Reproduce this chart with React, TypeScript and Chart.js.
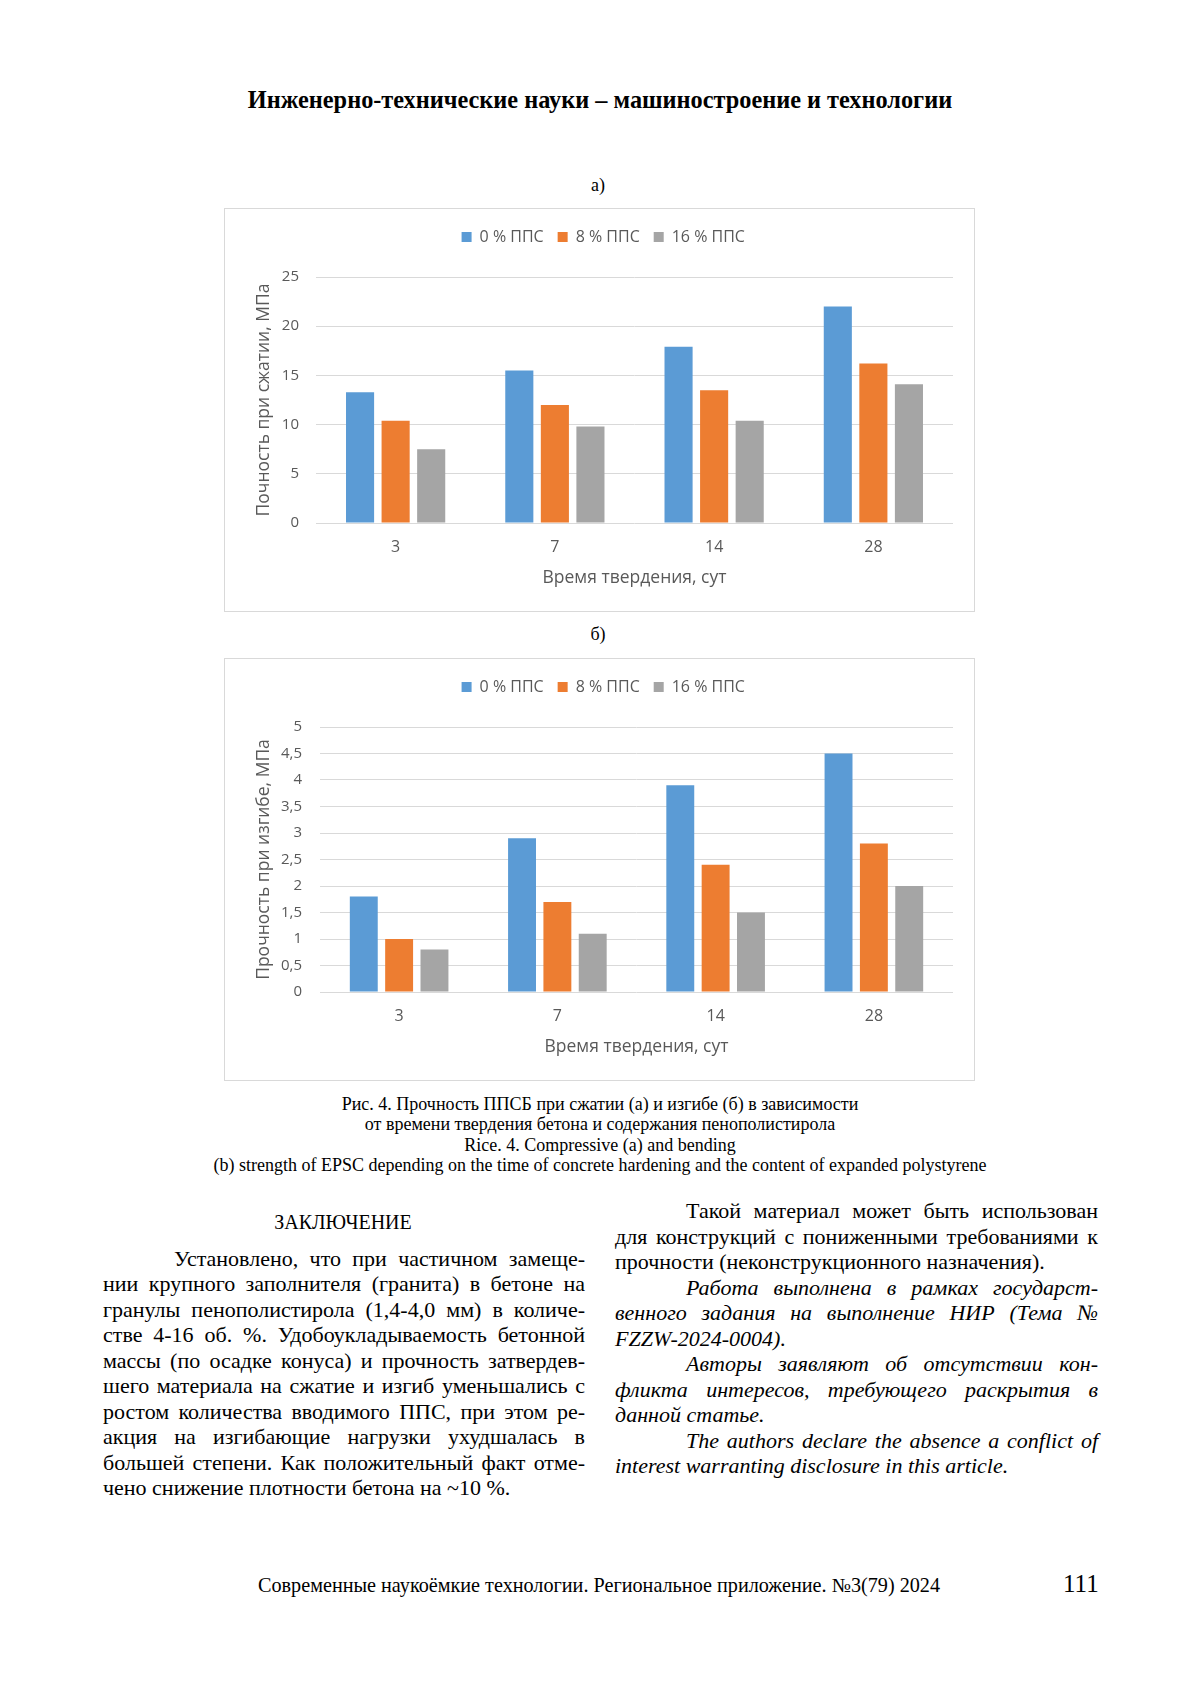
import React, { useEffect, useRef } from "react";
import { Chart, registerables } from "chart.js";

Chart.register(...registerables);

// ---------- data ----------
const categories = ["3", "7", "14", "28"];
const seriesLabels = ["0 % ППС", "8 % ППС", "16 % ППС"];
const seriesColors = ["#5B9BD5", "#ED7D31", "#A5A5A5"];

const compress0 = [13.3, 15.5, 17.9, 22.0];
const compress8 = [10.4, 12.0, 13.5, 16.2];
const compress16 = [7.5, 9.8, 10.4, 14.1];

const bend0 = [1.8, 2.9, 3.9, 4.5];
const bend8 = [1.0, 1.7, 2.4, 2.8];
const bend16 = [0.8, 1.1, 1.5, 2.0];

const compressMax = 25;
const compressStep = 5;
const bendMax = 5;
const bendStep = 0.5;

const xTitle = "Время твердения, сут";
const compressTitle = "Почность при сжатии, МПа";
const bendTitle = "Прочность при изгибе, МПа";

const CHART_FONT = "'Open Sans', 'Noto Sans', sans-serif";
const TEXT_GREY = "#595959";

type BarProps = {
  width: number;
  height: number;
  values: number[][];
  yMax: number;
  yStep: number;
  yTitle: string;
  plotLeft: number;
  tickPad: number;
  comma: boolean;
};

const PAD_LEFT = 28.5;

function BarChart(props: BarProps) {
  const ref = useRef<HTMLCanvasElement>(null);
  useEffect(() => {
    if (!ref.current) return;
    const legendGap = {
      id: "legendGap",
      beforeLayout(chart: any) {
        const lg = chart.legend;
        if (lg && !lg._gapPatched) {
          const f = lg.fit;
          lg.fit = function () {
            f.call(this);
            this.height += 22;
          };
          lg._gapPatched = true;
        }
      },
    };
    const chart = new Chart(ref.current, {
      type: "bar",
      data: {
        labels: categories,
        datasets: props.values.map((v, i) => ({
          label: seriesLabels[i],
          data: v,
          backgroundColor: seriesColors[i],
          borderWidth: 0,
          categoryPercentage: 0.67,
          barPercentage: 0.79,
        })),
      },
      options: {
        animation: false,
        responsive: false,
        maintainAspectRatio: false,
        layout: { padding: { left: PAD_LEFT, right: 21, top: 6, bottom: 22.5 } },
        plugins: {
          legend: {
            position: "top",
            labels: {
              boxWidth: 10,
              boxHeight: 10,
              padding: 14,
              color: TEXT_GREY,
              font: { size: 16, family: CHART_FONT },
            },
          },
          tooltip: { enabled: false },
        },
        scales: {
          x: {
            grid: { display: false, drawTicks: false },
            border: { display: false },
            ticks: {
              color: TEXT_GREY,
              font: { size: 16, family: CHART_FONT },
              padding: 14.4,
            },
            title: {
              display: true,
              text: xTitle,
              color: TEXT_GREY,
              font: { size: 17.5, family: CHART_FONT },
              padding: { top: -3.5, bottom: 0 },
            },
          },
          y: {
            min: 0,
            max: props.yMax,
            ticks: {
              stepSize: props.yStep,
              color: TEXT_GREY,
              font: { size: 15, family: CHART_FONT },
              padding: props.tickPad,
              callback: (v: any) =>
                props.comma ? String(v).replace(".", ",") : String(v),
            },
            grid: { color: "#D9D9D9", drawTicks: false, lineWidth: 1 },
            border: { display: false },
            title: {
              display: true,
              text: props.yTitle,
              color: TEXT_GREY,
              font: { size: 17.5, family: CHART_FONT },
              padding: { top: 0, bottom: 0 },
            },
            afterFit: (s: any) => {
              s.width = props.plotLeft - PAD_LEFT;
            },
          },
        },
      } as any,
      plugins: [legendGap as any],
    });
    return () => chart.destroy();
  }, []);
  return (
    <canvas
      ref={ref}
      width={props.width}
      height={props.height}
      style={{ display: "block", width: props.width, height: props.height }}
    />
  );
}

const serif = "'Liberation Serif', 'Times New Roman', serif";

function Line(p: {
  x: number;
  y: number;
  w: number;
  text: string;
  size: number;
  lh: number;
  indent?: number;
  justify?: boolean;
  italic?: boolean;
}) {
  return (
    <div
      style={{
        position: "absolute",
        left: p.x,
        top: p.y - p.lh / 2,
        width: p.w,
        height: p.lh,
        lineHeight: p.lh + "px",
        fontSize: p.size,
        fontFamily: serif,
        fontStyle: p.italic ? "italic" : "normal",
        paddingLeft: p.indent || 0,
        boxSizing: "border-box",
        textAlign: p.justify ? "justify" : "left",
        textAlignLast: p.justify ? "justify" : "left",
        whiteSpace: "nowrap",
        color: "#000",
      }}
    >
      {p.text}
    </div>
  );
}

function Centered(p: { cx: number; y: number; text: string; size: number; bold?: boolean }) {
  return (
    <div
      style={{
        position: "absolute",
        left: p.cx - 500,
        width: 1000,
        top: p.y - p.size * 0.6,
        lineHeight: p.size * 1.2 + "px",
        fontSize: p.size,
        fontFamily: serif,
        fontWeight: p.bold ? "bold" : "normal",
        textAlign: "center",
        whiteSpace: "nowrap",
        color: "#000",
      }}
    >
      {p.text}
    </div>
  );
}

const leftLines = [
  "Установлено, что при частичном замеще-",
  "нии крупного заполнителя (гранита) в бетоне на",
  "гранулы пенополистирола (1,4-4,0 мм) в количе-",
  "стве 4-16 об. %. Удобоукладываемость бетонной",
  "массы (по осадке конуса) и прочность затвердев-",
  "шего материала на сжатие и изгиб уменьшались с",
  "ростом количества вводимого ППС, при этом ре-",
  "акция на изгибающие нагрузки ухудшалась в",
  "большей степени. Как положительный факт отме-",
  "чено снижение плотности бетона на ~10 %.",
];

const rightLines: { t: string; indent: boolean; last: boolean; italic: boolean }[] = [
  { t: "Такой материал может быть использован", indent: true, last: false, italic: false },
  { t: "для конструкций с пониженными требованиями к", indent: false, last: false, italic: false },
  { t: "прочности (неконструкционного назначения).", indent: false, last: true, italic: false },
  { t: "Работа выполнена в рамках государст-", indent: true, last: false, italic: true },
  { t: "венного задания на выполнение НИР (Тема №", indent: false, last: false, italic: true },
  { t: "FZZW-2024-0004).", indent: false, last: true, italic: true },
  { t: "Авторы заявляют об отсутствии кон-", indent: true, last: false, italic: true },
  { t: "фликта интересов, требующего раскрытия в", indent: false, last: false, italic: true },
  { t: "данной статье.", indent: false, last: true, italic: true },
  { t: "The authors declare the absence a conflict of", indent: true, last: false, italic: true },
  { t: "interest warranting disclosure in this article.", indent: false, last: true, italic: true },
];

export default function App() {
  const bodySize = 22;
  const lh = 25.5;
  return (
    <div
      style={{
        position: "absolute",
        left: 0,
        top: 0,
        width: 1200,
        height: 1697,
        background: "#fff",
        overflow: "hidden",
      }}
    >
      <Centered cx={600} y={100} text="Инженерно-технические науки – машиностроение и технологии" size={24.3} bold />
      <Centered cx={598} y={186} text="а)" size={18} />

      <div
        style={{
          position: "absolute",
          left: 224,
          top: 208,
          width: 751,
          height: 404,
          border: "1px solid #D9D9D9",
          boxSizing: "border-box",
        }}
      >
        <BarChart
          width={749}
          height={402}
          values={[compress0, compress8, compress16]}
          yMax={compressMax}
          yStep={compressStep}
          yTitle={compressTitle}
          plotLeft={91}
          tickPad={17}
          comma={false}
        />
      </div>

      <Centered cx={598} y={635} text="б)" size={18} />

      <div
        style={{
          position: "absolute",
          left: 224,
          top: 658,
          width: 751,
          height: 423,
          border: "1px solid #D9D9D9",
          boxSizing: "border-box",
        }}
      >
        <BarChart
          width={749}
          height={421}
          values={[bend0, bend8, bend16]}
          yMax={bendMax}
          yStep={bendStep}
          yTitle={bendTitle}
          plotLeft={95}
          tickPad={18}
          comma={true}
        />
      </div>

      <Centered cx={600} y={1105} text="Рис. 4. Прочность ППСБ при сжатии (а) и изгибе (б) в зависимости" size={18} />
      <Centered cx={600} y={1125} text="от времени твердения бетона и содержания пенополистирола" size={18} />
      <Centered cx={600} y={1146} text="Rice. 4. Compressive (a) and bending" size={18} />
      <Centered cx={600} y={1166} text="(b) strength of EPSC depending on the time of concrete hardening and the content of expanded polystyrene" size={18} />

      <Centered cx={343} y={1222} text="ЗАКЛЮЧЕНИЕ" size={20} />

      {leftLines.map((t, i) => (
        <Line
          key={"l" + i}
          x={103}
          y={1258.5 + lh * i}
          w={482}
          text={t}
          size={bodySize}
          lh={lh}
          indent={i === 0 ? 71 : 0}
          justify={i !== leftLines.length - 1}
        />
      ))}

      {rightLines.map((r, i) => (
        <Line
          key={"r" + i}
          x={615}
          y={1211 + lh * i}
          w={483}
          text={r.t}
          size={bodySize}
          lh={lh}
          indent={r.indent ? 71 : 0}
          justify={!r.last}
          italic={r.italic}
        />
      ))}

      <div
        style={{
          position: "absolute",
          left: 258,
          top: 1585 - 13,
          lineHeight: "26px",
          fontSize: 20.2,
          fontFamily: serif,
          whiteSpace: "nowrap",
          color: "#000",
        }}
      >
        Современные наукоёмкие технологии. Региональное приложение. №3(79) 2024
      </div>
      <div
        style={{
          position: "absolute",
          left: 1063,
          top: 1584 - 15,
          lineHeight: "30px",
          fontSize: 25,
          fontFamily: serif,
          whiteSpace: "nowrap",
          color: "#000",
        }}
      >
        111
      </div>
    </div>
  );
}
